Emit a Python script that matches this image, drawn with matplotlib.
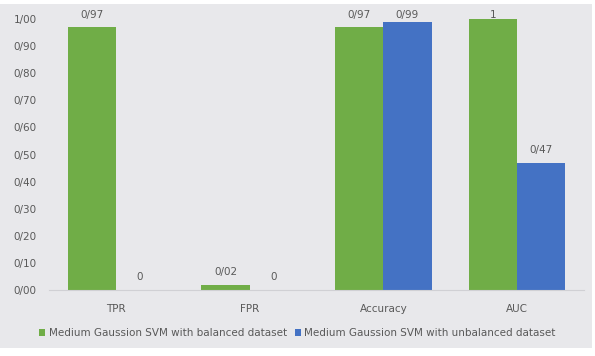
import matplotlib
matplotlib.use("Agg")
import matplotlib.pyplot as plt
import numpy as np
from matplotlib.patches import Rectangle

categories = ["TPR", "FPR", "Accuracy", "AUC"]
balanced = [0.97, 0.02, 0.97, 1.0]
unbalanced = [0.0, 0.0, 0.99, 0.47]
balanced_labels = ["0/97", "0/02", "0/97", "1"]
unbalanced_labels = ["0", "0", "0/99", "0/47"]
ytick_values = [0.0, 0.1, 0.2, 0.3, 0.4, 0.5, 0.6, 0.7, 0.8, 0.9, 1.0]
ytick_labels = ["0/00", "0/10", "0/20", "0/30", "0/40", "0/50",
                "0/60", "0/70", "0/80", "0/90", "1/00"]
series_names = ["Medium Gaussion SVM with balanced dataset",
                "Medium Gaussion SVM with unbalanced dataset"]

green = "#70ad47"
blue = "#4472c4"
panel = "#e8e8eb"
text_col = "#595959"

W, H = 595, 356
fig = plt.figure(figsize=(W / 100, H / 100), dpi=100, facecolor="white")

# grey chart-area panel behind everything
bg = fig.add_axes([0, 0, 1, 1], zorder=-1)
bg.axis("off")
bg.add_patch(Rectangle((0, 8 / H), 592 / W, (H - 12) / H,
                       transform=fig.transFigure, facecolor=panel,
                       edgecolor="none"))

ax = fig.add_axes([49 / W, 1 - 290 / H, 535 / W, 271 / H], zorder=1)
ax.set_facecolor("none")

x = np.arange(len(categories))
w = 0.36
b1 = ax.bar(x - w / 2, balanced, w, color=green, label=series_names[0], zorder=2)
b2 = ax.bar(x + w / 2, unbalanced, w, color=blue, label=series_names[1], zorder=2)

# value labels sit just above each bar, kept inside the plot's top margin
label_gap = 0.048
label_cap = 1.015
for bars, labels in ((b1, balanced_labels), (b2, unbalanced_labels)):
    for rect, lab in zip(bars, labels):
        y = min(rect.get_height() + label_gap, label_cap)
        ax.text(rect.get_x() + rect.get_width() / 2, y, lab,
                ha="center", va="center", fontsize=7.5, color=text_col,
                clip_on=False)

ax.set_xlim(-0.5, len(categories) - 0.5)
ax.set_ylim(0, 1.0)
ax.set_yticks(ytick_values)
ax.set_yticklabels(ytick_labels)
ax.set_xticks(x)
ax.set_xticklabels(categories)
ax.tick_params(axis="both", length=0, labelsize=7.5, labelcolor=text_col)
ax.tick_params(axis="y", pad=9)
ax.tick_params(axis="x", pad=10)
for s in ["top", "right", "left"]:
    ax.spines[s].set_visible(False)
ax.spines["bottom"].set_color("#d0d0d4")
ax.spines["bottom"].set_linewidth(0.8)

fig.legend(handles=[b1, b2], loc="center", bbox_to_anchor=(0.5, 1 - 333 / H),
           ncol=2, frameon=False, fontsize=7.5, labelcolor=text_col,
           handlelength=0.6, handleheight=0.6, handletextpad=0.3,
           columnspacing=0.8)

fig.savefig("out.png", dpi=100, facecolor=fig.get_facecolor())
